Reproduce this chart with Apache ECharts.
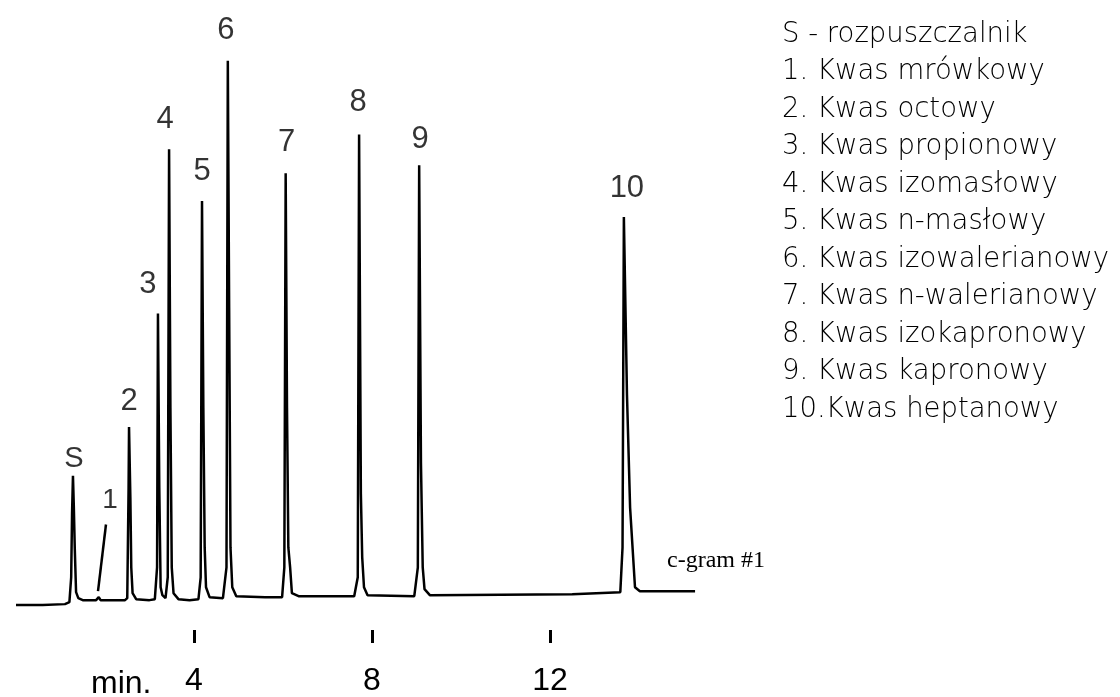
<!DOCTYPE html>
<html>
<head>
<meta charset="utf-8">
<script src="https://cdn.jsdelivr.net/npm/echarts@6/dist/echarts.min.js"></script>
<style>
html,body{margin:0;padding:0;background:#fff;}
#chart{width:1120px;height:697px;}
</style>
</head>
<body>
<div id="chart"></div>
<script>
// Retention time (min) and detector signal (arbitrary units) of the trace
const trace = [
  [0.00, 2], [0.60, 2], [1.10, 3], [1.20, 5],
  [1.24, 30], [1.26, 95], [1.28, 132], [1.30, 100], [1.32, 60], [1.35, 15], [1.40, 9], [1.50, 7],
  [1.80, 7], [1.86, 10], [1.90, 7], [2.20, 7], [2.45, 7], [2.50, 9],
  [2.53, 120], [2.54, 181], [2.57, 110], [2.59, 40], [2.62, 14], [2.70, 8], [3.00, 7], [3.12, 8],
  [3.17, 40], [3.19, 295], [3.22, 120], [3.25, 20], [3.29, 12], [3.36, 9],
  [3.41, 30], [3.44, 460], [3.47, 200], [3.50, 40], [3.54, 14], [3.65, 8], [3.90, 7], [4.10, 8],
  [4.15, 30], [4.18, 408], [4.21, 200], [4.24, 60], [4.27, 20], [4.35, 10], [4.65, 9],
  [4.73, 40], [4.76, 549], [4.79, 300], [4.82, 60], [4.86, 20], [4.95, 11], [5.60, 10], [5.98, 10],
  [6.03, 40], [6.06, 436], [6.09, 200], [6.12, 60], [6.16, 40], [6.20, 14], [6.35, 11], [7.60, 11],
  [7.68, 30], [7.71, 475], [7.75, 114], [7.78, 50], [7.82, 20], [7.90, 12], [8.95, 11],
  [9.03, 40], [9.06, 444], [9.10, 145], [9.14, 40], [9.18, 18], [9.30, 12], [12.50, 13], [13.58, 15],
  [13.63, 60], [13.66, 392], [13.73, 213], [13.80, 100], [13.91, 20], [14.02, 16], [14.60, 16], [15.26, 16]
];

// Peak identification
const peakNames   = ['S', '2', '3', '4', '5', '6', '7', '8', '9', '10'];
const peakTimes   = [1.28, 2.54, 3.19, 3.44, 4.18, 4.76, 6.06, 7.71, 9.06, 13.66];
const peakHeights = [132, 181, 295, 460, 408, 549, 436, 475, 444, 392];

// Peak 1 is tiny: marked with a leader line
const peak1Name = '1';
const peak1Leader = [[1.843, 16], [2.022, 83]];

// Axis ticks (min)
const tickValues = [4, 8, 12];
const axisUnit = 'min.';
const traceName = 'c-gram #1';

const legendLines = [
  'S - rozpuszczalnik',
  '1. Kwas mrówkowy',
  '2. Kwas octowy',
  '3. Kwas propionowy',
  '4. Kwas izomasłowy',
  '5. Kwas n-masłowy',
  '6. Kwas izowalerianowy',
  '7. Kwas n-walerianowy',
  '8. Kwas izokapronowy',
  '9. Kwas kapronowy',
  '10.Kwas heptanowy'
];

// label styling (offsets in px, font sizes)
const labelOffsets = [[1, 12], [0, 4], [-10, 1], [-4, 0], [0, 0], [-2, 0], [1, -1], [-1, -2], [1, 4], [3, 1]];
const labelSizes   = [29, 31, 31, 31, 31, 31, 31, 31, 31, 31];

const chart = echarts.init(document.getElementById('chart'), null, {renderer: 'canvas'});

const peakData = peakNames.map((n, i) => ({
  value: [peakTimes[i], peakHeights[i]],
  name: n,
  label: { offset: labelOffsets[i], fontSize: labelSizes[i] }
}));
peakData.push({
  value: peak1Leader[1],
  name: peak1Name,
  label: { offset: [4, 4], fontSize: 28 }
});

const option = {
  backgroundColor: '#ffffff',
  animation: false,
  grid: { left: 16, right: 414.25, top: 10, bottom: 64, containLabel: false },
  xAxis: {
    type: 'value', min: 0, max: 15.5,
    axisLine: { show: false, onZero: false },
    splitLine: { show: false },
    axisTick: { show: true, customValues: tickValues, length: 13, inside: false,
                lineStyle: { color: '#000', width: 3 } },
    axisLabel: { show: true, customValues: tickValues, margin: 35, fontSize: 32,
                 fontFamily: 'Liberation Sans', color: '#000' }
  },
  yAxis: { type: 'value', min: -23, max: 600, show: false },
  series: [
    {
      type: 'line', name: traceName, data: trace, symbol: 'none', smooth: false,
      lineStyle: { color: '#000', width: 2.5 }, silent: true, z: 2
    },
    {
      type: 'line', name: 'leader', data: peak1Leader, symbol: 'none',
      lineStyle: { color: '#000', width: 2.5 }, silent: true, z: 3
    },
    {
      type: 'scatter', name: 'peaks', data: peakData, symbolSize: 1,
      itemStyle: { color: 'transparent' }, silent: true, z: 4,
      label: { show: true, position: 'top', distance: 14, formatter: '{b}',
               fontFamily: 'Liberation Sans', color: '#000' }
    }
  ],
  graphic: [
    { type: 'text', left: 91, top: 668,
      style: { text: axisUnit, font: '32px "Liberation Sans"', fill: '#000' } },
    { type: 'text', left: 667, top: 549,
      style: { text: traceName, font: '24px "Liberation Serif"', fill: '#000' } },
    { type: 'text', left: 782, top: 16,
      style: { text: legendLines.join('\n'), font: '200 27.5px "DejaVu Sans"', fill: '#000',
               lineHeight: 37.5 } }
  ]
};
chart.setOption(option);
</script>
</body>
</html>
